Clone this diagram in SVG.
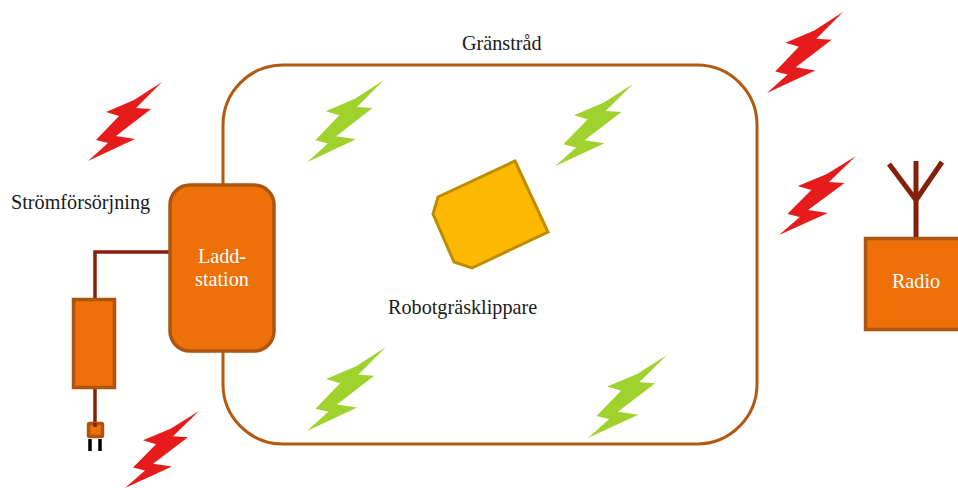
<svg xmlns="http://www.w3.org/2000/svg" width="958" height="488" viewBox="0 0 958 488">
<style>
.box{fill:#ed7008;stroke:#ad5410;stroke-width:3.500}
.wire{fill:none;stroke:#84200a;stroke-width:3.500}
.border{fill:none;stroke:#b35a10;stroke-width:3}
.ant{fill:none;stroke:#84200a;stroke-width:5}
.red{fill:#e61c1c}
.green{fill:#9fd22d}
text{font-family:"Liberation Serif","Times New Roman",serif;font-size:20.200px;fill:#1a1a1a}
.w{fill:#fff;text-anchor:middle}
</style>
<defs>
<path id="bolt" d="M0 0L-28 18L-56 30L-43 34L-66 58L-54 61L-74 79L-27 57L-46 54L-11 27L-26 26Z"/>
</defs>
<rect width="958" height="488" fill="#fff"/>
<g id="connectors">
<rect class="border" x="223" y="65" width="534" height="379" rx="60" ry="60"/>
<path class="wire" d="M169 252H95V299"/>
<path class="wire" d="M95 388V430"/>
</g>
<g id="boundary-label"><text x="462" y="50">Gränstråd</text></g>
<g id="bolts-red" class="red">
<use href="#bolt" transform="translate(162 82)"/>
<use href="#bolt" transform="translate(199 411) scale(1 .975)"/>
<use href="#bolt" transform="translate(843 12) scale(1.027 1.025)"/>
<use href="#bolt" transform="translate(856 156) scale(1.04 1)"/>
</g>
<g id="bolts-green" class="green">
<use href="#bolt" transform="translate(384 80) scale(1.04 1.04)"/>
<use href="#bolt" transform="translate(633 84) scale(1.054 1.04)"/>
<use href="#bolt" transform="translate(386 347) scale(1.068 1.063)"/>
<use href="#bolt" transform="translate(667 355) scale(1.068 1.05)"/>
</g>
<g id="strom-label"><text x="11" y="209">Strömförsörjning</text></g>
<g id="laddstation">
<rect class="box" x="170" y="185" width="104" height="166" rx="20" ry="20"/>
<text class="w" x="222" y="263">Ladd-</text>
<text class="w" x="222" y="286">station</text>
</g>
<g id="transformer"><rect class="box" x="73.500" y="299.500" width="41" height="88"/></g>
<g id="plug">
<rect x="88.500" y="423.500" width="14" height="13" rx="1" class="box"/>
<path d="M95 423V427" class="wire"/>
<path d="M90 439V451M100 439V451" fill="none" stroke="#000" stroke-width="3.500"/>
</g>
<g id="robot">
<polygon points="515,161 548,232 472,268 454,262 433,214 438,197" fill="#fcb900" stroke="#bf8c00" stroke-width="3"/>
</g>
<g id="robot-label"><text x="388" y="314">Robotgräsklippare</text></g>
<g id="radio">
<path class="ant" d="M889 164L916 200L942 162" stroke-linejoin="round"/>
<path class="ant" d="M916 161V238" stroke-width="4"/>
<rect class="box" x="865.500" y="238.500" width="100" height="91"/>
<text class="w" x="916" y="288">Radio</text>
</g>
</svg>
